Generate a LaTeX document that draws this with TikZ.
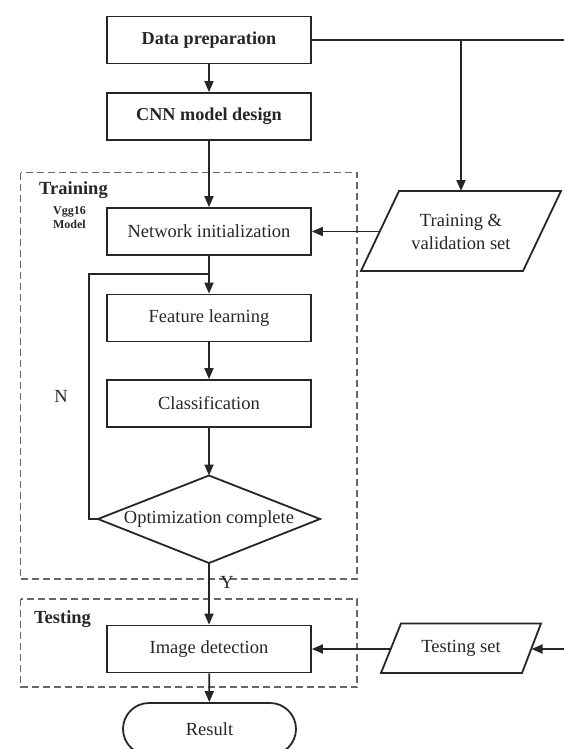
\documentclass[tikz,border=0pt]{standalone}
\usepackage{fontspec}
\setmainfont{Liberation Serif}
\usetikzlibrary{arrows.meta}
\begin{document}
\begin{tikzpicture}[x=1pt,y=-1pt,
  box/.style={draw=black!85, line width=1.8pt, minimum width=204pt, minimum height=47pt, inner sep=0pt, font=\fontsize{18.5}{22}\selectfont, text=black!85},
  boldbox/.style={box, font=\fontsize{18.2}{22}\selectfont\bfseries},
  grp/.style={draw=black!60, line width=1.2pt, dash pattern=on 7pt off 4pt},
  conn/.style={draw=black!85, line width=1.8pt},
  arr/.style={conn, -{Triangle[length=11pt,width=9pt]}},
  lbl/.style={font=\fontsize{18.5}{22}\selectfont, text=black!85, inner sep=0pt},
  blbl/.style={lbl, font=\fontsize{18.5}{22}\selectfont\bfseries}
]
\path[use as bounding box] (0,0) rectangle (564,749);
\clip (0,0) rectangle (564,749);

% dashed groups
\draw[grp] (20.5,172.5) rectangle (357,579);
\draw[grp] (20.5,599) rectangle (357,687);

% main boxes
\node[boldbox] (prep) at (209,40) {Data preparation};
\node[boldbox] (cnn) at (209,116.5) {CNN model design};
\node[box] (init) at (209,231.5) {Network initialization};
\node[box] (feat) at (209,318) {Feature learning};
\node[box] (cls) at (209,403.5) {Classification};
\node[box] (det) at (209,649) {Image detection};
\node[draw=black!85, line width=1.8pt, rounded corners=26pt, minimum width=173pt, minimum height=52pt, inner sep=0pt, font=\fontsize{18.5}{22}\selectfont, text=black!85] (res) at (209.5,729) {Result};

% decision diamond
\coordinate (dtop) at (209,475.5);
\coordinate (dright) at (320,519);
\coordinate (dbot) at (209,563);
\coordinate (dleft) at (98,519);
\draw[conn] (dtop) -- (dright) -- (dbot) -- (dleft) -- cycle;
\node[lbl] (opt) at (209,519) {Optimization complete};

% parallelogram: training & validation set
\coordinate (p1a) at (399,191);
\coordinate (p1b) at (561,191);
\coordinate (p1c) at (523,271);
\coordinate (p1d) at (361,271);
\draw[conn] (p1a) -- (p1b) -- (p1c) -- (p1d) -- cycle;
\node[lbl, align=center, font=\fontsize{18.5}{23}\selectfont] (tv) at (461,231.5) {Training \&\\validation set};
\coordinate (p1top) at (461,191);
\coordinate (p1in) at (380,231.5);

% parallelogram: testing set
\coordinate (p2a) at (401,623.5);
\coordinate (p2b) at (541,623.5);
\coordinate (p2c) at (522,673);
\coordinate (p2d) at (381,673);
\draw[conn] (p2a) -- (p2b) -- (p2c) -- (p2d) -- cycle;
\node[lbl] (ts) at (461,648.5) {Testing set};
\coordinate (p2in) at (531.5,649);
\coordinate (p2out) at (391,649);

% labels
\node[blbl] (trlab) at (73.5,190) {Training};
\node[lbl, align=center, font=\fontsize{12}{14}\selectfont\bfseries] (vgg) at (69.5,218) {Vgg16\\Model};
\node[blbl] (telab) at (62.5,619) {Testing};
\node[lbl] (nlab) at (61,396) {N};
\node[lbl] (ylab) at (227,582) {Y};

% connectors
\coordinate (br) at (461,40);
\coordinate (rtop) at (566,40);
\coordinate (rbot) at (566,649);
\coordinate (fbl) at (89,519);
\coordinate (fbt) at (89,274);
\coordinate (join) at (209,274);

\draw[arr] (prep) -- (cnn);
\draw[arr] (cnn) -- (init);
\draw[arr] (init) -- (feat);
\draw[arr] (feat) -- (cls);
\draw[arr] (cls) -- (dtop);
\draw[arr] (dbot) -- (det);
\draw[arr] (det) -- (res);
\draw[conn] (dleft) -- (fbl) -- (fbt) -- (join);
\draw[conn] (prep.east) -- (rtop) -- (rbot);
\draw[arr] (br) -- (p1top);
\draw[arr] (p1in) -- (init.east);
\draw[arr] (rbot) -- (p2in);
\draw[arr] (p2out) -- (det.east);
\end{tikzpicture}
\end{document}
